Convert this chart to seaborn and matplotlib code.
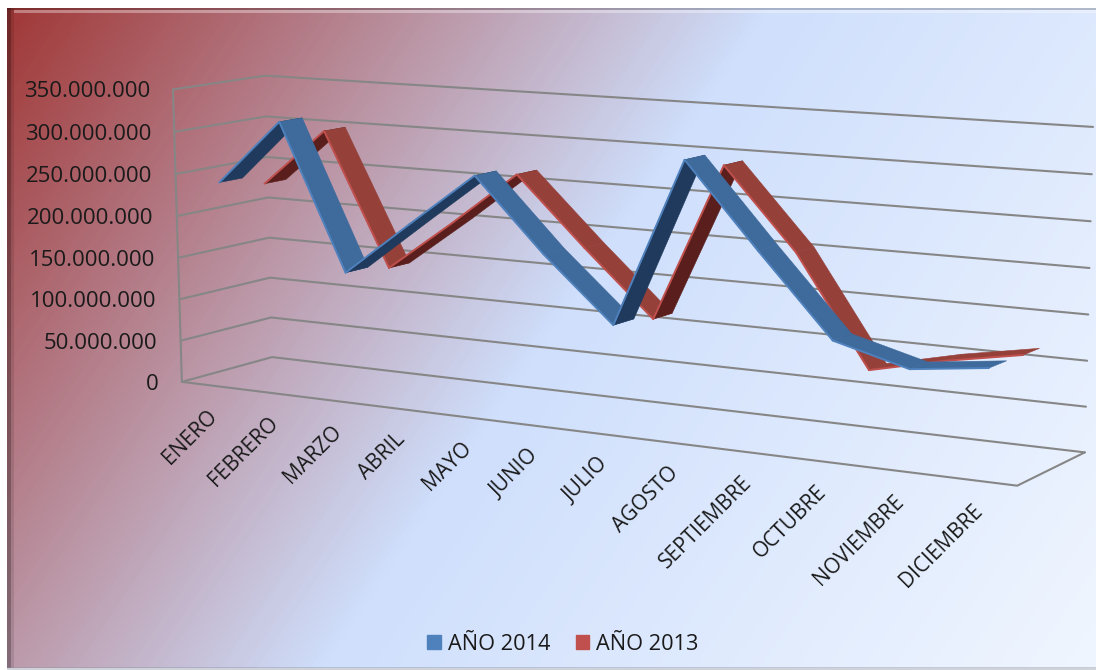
# grafico de lineas 3D (cinta) ventas por mes, 2014 y 2013
import numpy as np
import pandas as pd
import matplotlib
matplotlib.use("Agg")
import matplotlib.pyplot as plt
import seaborn as sns
from matplotlib.patches import Patch, Rectangle

# ===============================
# Datos
# ===============================
meses = ["ENERO", "FEBRERO", "MARZO", "ABRIL", "MAYO", "JUNIO", "JULIO", "AGOSTO",
         "SEPTIEMBRE", "OCTUBRE", "NOVIEMBRE", "DICIEMBRE"]
ventas_2014 = [240e6, 317e6, 147e6, 210e6, 272e6, 190e6, 118e6, 307e6, 215e6, 126e6, 104e6, 114e6]
ventas_2013 = [228e6, 297e6, 140e6, 200e6, 263e6, 185e6, 111e6, 291e6, 201e6, 79e6, 98e6, 113e6]
eje_y = [0, 50e6, 100e6, 150e6, 200e6, 250e6, 300e6, 350e6]
etiquetas_y = ["0", "50.000.000", "100.000.000", "150.000.000", "200.000.000",
               "250.000.000", "300.000.000", "350.000.000"]

sns.set_theme(style="white")
plt.rcParams["font.family"] = ["Open Sans", "DejaVu Sans"]

# ===============================
# Camara: esquinas de la caja 3D (mes, profundidad, valor) -> pixeles
# ===============================
esquinas = [
    ((0, 0, 0), (182, 382)),
    ((0, 0, 350e6), (173, 89)),
    ((0, 1, 0), (272, 357)),
    ((0, 1, 350e6), (265, 76)),
    ((12, 1, 0), (1085, 452)),
    ((12, 1, 350e6), (1093, 127)),
    ((12, 0, 0), (1017, 486)),
]


def ajustar_camara(puntos):
    filas, lado = [], []
    for (x, d, v), (u, w) in puntos:
        v = v / 1e8
        filas.append([x, d, v, 1, 0, 0, 0, 0, -u * x, -u * d, -u * v])
        filas.append([0, 0, 0, 0, x, d, v, 1, -w * x, -w * d, -w * v])
        lado += [u, w]
    p = np.linalg.lstsq(np.array(filas, float), np.array(lado, float), rcond=None)[0]
    return np.append(p, 1).reshape(3, 4)


camara = ajustar_camara(esquinas)


def proyectar(x, d, v):
    h = camara @ np.array([x, d, v / 1e8, 1.0])
    return h[0] / h[2], h[1] / h[2]


def linea(ax, puntos, color, lw, zorder):
    df = pd.DataFrame([proyectar(*p) for p in puntos], columns=["px", "py"])
    sns.lineplot(data=df, x="px", y="py", estimator=None, sort=False,
                 color=color, linewidth=lw, zorder=zorder, legend=False, ax=ax)


# ===============================
# Fondo
# ===============================
fig = plt.figure(figsize=(10.96, 6.70), dpi=100, facecolor="white")
ax = fig.add_axes([0, 0, 1, 1])

fondo = sns.blend_palette(["#A03534", "#CFDFFC", "#F0F6FF"], as_cmap=True)
yy, xx = np.mgrid[8:668, 7:1096]
t = (xx * 0.56 + yy * 0.38) / 869
ax.imshow(t, cmap=fondo, vmin=0, vmax=1, extent=(7, 1096, 668, 8), aspect="auto", zorder=0)

# biselado del marco
ax.add_patch(Rectangle((7, 8), 4, 660, color="black", alpha=0.3, lw=0, zorder=1))
ax.add_patch(Rectangle((11, 8), 3, 660, color="black", alpha=0.1, lw=0, zorder=1))
ax.add_patch(Rectangle((7, 8), 1089, 2, color="black", alpha=0.2, lw=0, zorder=1))
ax.add_patch(Rectangle((14, 10), 1082, 3, color="white", alpha=0.35, lw=0, zorder=1))
ax.add_patch(Rectangle((7, 667), 1089, 3, color="#8A90A0", alpha=0.4, lw=0, zorder=1))

# ===============================
# Rejilla y ejes
# ===============================
gris = "#868686"
n = len(meses)
for v in eje_y:
    linea(ax, [(0, 0, v), (0, 1, v), (n, 1, v)], gris, 1.5, 2)
linea(ax, [(0, 0, 0), (0, 0, eje_y[-1])], gris, 1.5, 2)
linea(ax, [(0, 0, 0), (n, 0, 0), (n, 1, 0)], gris, 1.5, 2)

for v, txt in zip(eje_y, etiquetas_y):
    u, w = proyectar(0, 0, v)
    ax.text(u - 23, w + 2.5, txt, ha="right", va="center", fontsize=16, color="#1a1a1a", zorder=3)

for i, mes in enumerate(meses):
    u, w = proyectar(i + 0.5, 0, 0)
    ax.text(u - 5, w + 20, mes, rotation=45, rotation_mode="anchor", ha="right", va="top",
            fontsize=15, color="#1a1a1a", zorder=3)


# ===============================
# Cintas
# ===============================
def cinta(valores, d0, d1, arriba, abajo, borde, z):
    for i in range(len(valores) - 1):
        a, b = valores[i], valores[i + 1]
        quad = [proyectar(i + 0.5, d0, a), proyectar(i + 0.5, d1, a),
                proyectar(i + 1.5, d1, b), proyectar(i + 1.5, d0, b)]
        # se ve la cara inferior (oscura) solo si la cinta sube mas que el fondo
        f0, f1, b0 = np.array(quad[0]), np.array(quad[3]), np.array(quad[1])
        largo, ancho = f1 - f0, b0 - f0
        giro = largo[0] * ancho[1] - largo[1] * ancho[0]
        color = abajo if giro > 0 else arriba
        ax.fill(*zip(*quad), color=color, linewidth=0.4, zorder=z + i * 0.01)
        linea(ax, [(i + 0.5, d0, a), (i + 1.5, d0, b)], borde, 1.4, z + i * 0.01 + 0.005)


cinta(ventas_2013, 0.63, 0.87, "#96403A", "#5A1F1C", "#C0504D", 4)
cinta(ventas_2014, 0.14, 0.39, "#3E6A9C", "#1F3A5C", "#4F81BD", 5)

# ===============================
# Leyenda
# ===============================
ax.legend(handles=[Patch(color="#4F81BD", label="AÑO 2014"), Patch(color="#C0504D", label="AÑO 2013")],
          ncol=2, loc="center", bbox_to_anchor=(563, 644), bbox_transform=ax.transData,
          frameon=False, fontsize=15.7, handlelength=0.64, handleheight=0.64,
          handletextpad=0.32, columnspacing=1.15, labelcolor="#1a1a1a")

ax.set_xlim(0, 1096)
ax.set_ylim(670, 0)
ax.set_axis_off()

fig.savefig("out.png", dpi=100, facecolor="white")
